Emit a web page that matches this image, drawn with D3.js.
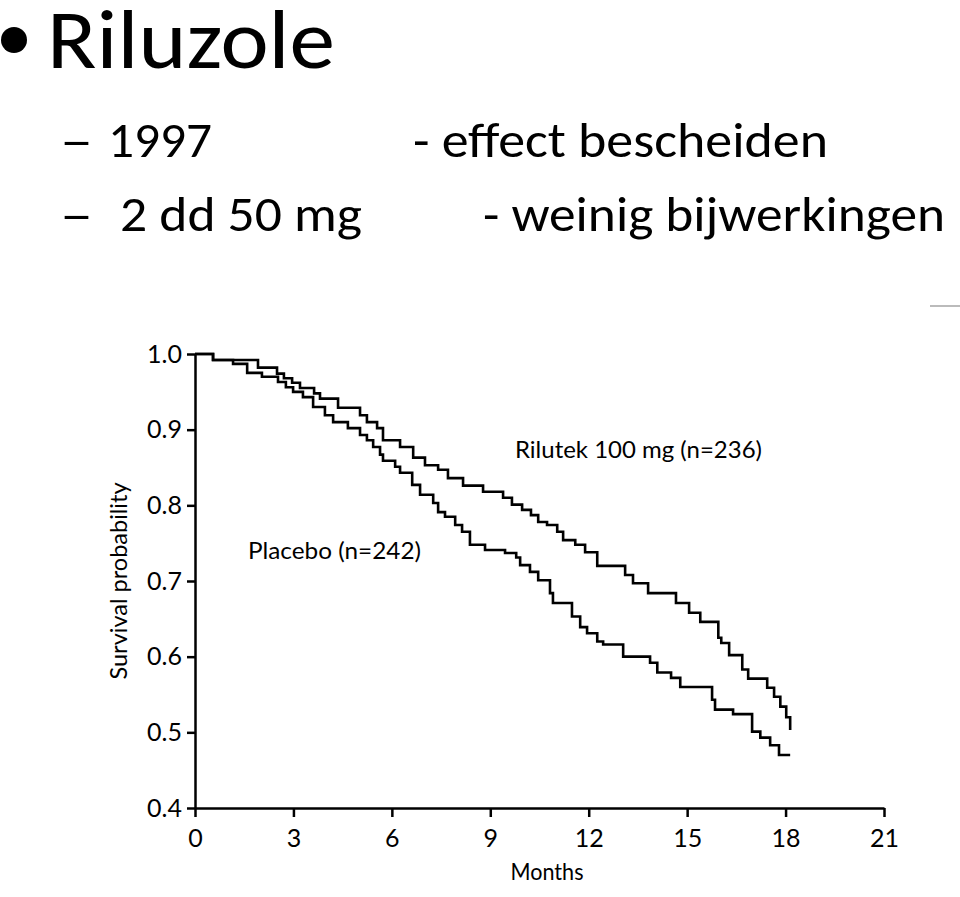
<!DOCTYPE html>
<html>
<head>
<meta charset="utf-8">
<script src="https://cdn.jsdelivr.net/npm/d3@7"></script>
<style>
  body { margin: 0; background: #fff; }
  svg { display: block; }
</style>
</head>
<body>
<svg id="chart"></svg>
<script>
// Kaplan-Meier curves (months, survival probability)
var riluTime = [0, 0.55, 1.92, 2.50, 2.71, 2.96, 3.20, 3.63, 3.81, 4.36, 5.03, 5.24, 5.55, 5.73, 6.25, 6.65, 7.01, 7.41, 7.71, 8.17, 8.78, 9.39, 9.66, 9.97, 10.24, 10.46, 10.73, 11.04, 11.22, 11.59, 11.89, 12.26, 13.11, 13.35, 13.81, 14.66, 15.06, 15.40, 15.95, 16.04, 16.28, 16.68, 16.86, 17.44, 17.65, 17.84, 18.02, 18.14]
var riluSurv = [1.000, 0.992, 0.982, 0.974, 0.968, 0.962, 0.955, 0.948, 0.941, 0.929, 0.919, 0.910, 0.902, 0.886, 0.877, 0.863, 0.853, 0.847, 0.836, 0.826, 0.818, 0.810, 0.801, 0.794, 0.787, 0.778, 0.774, 0.765, 0.754, 0.748, 0.738, 0.720, 0.708, 0.697, 0.684, 0.671, 0.658, 0.646, 0.625, 0.618, 0.602, 0.583, 0.571, 0.559, 0.547, 0.534, 0.520, 0.503]

var placTime = [0, 0.55, 1.16, 1.59, 2.04, 2.53, 2.77, 2.99, 3.29, 3.60, 3.96, 4.21, 4.66, 5.03, 5.24, 5.43, 5.64, 5.73, 6.10, 6.25, 6.62, 6.86, 7.26, 7.41, 7.62, 7.93, 8.14, 8.38, 8.84, 9.45, 9.79, 9.91, 10.21, 10.46, 10.82, 10.91, 11.49, 11.74, 11.95, 12.26, 12.44, 13.05, 13.87, 14.09, 14.51, 14.79, 15.76, 15.85, 16.40, 16.98, 17.23, 17.53, 17.80, 18.14]
var placSurv = [1.000, 0.992, 0.987, 0.975, 0.970, 0.963, 0.956, 0.950, 0.943, 0.930, 0.919, 0.910, 0.902, 0.893, 0.886, 0.877, 0.867, 0.859, 0.851, 0.843, 0.827, 0.814, 0.803, 0.791, 0.785, 0.774, 0.765, 0.748, 0.741, 0.737, 0.731, 0.721, 0.712, 0.701, 0.684, 0.671, 0.653, 0.639, 0.631, 0.620, 0.616, 0.600, 0.592, 0.579, 0.572, 0.560, 0.543, 0.530, 0.524, 0.501, 0.493, 0.483, 0.470, 0.470]

var xTicks = [0, 3, 6, 9, 12, 15, 18, 21]
var yTicks = [0.4, 0.5, 0.6, 0.7, 0.8, 0.9, 1.0]

var width = 960, height = 897
var margin = ({top: 354, right: 76, bottom: 89, left: 195})
var slideFont = 'Carlito, Lato, sans-serif'
var chartFont = 'Lato, "Open Sans", sans-serif'

var svg = d3.select('#chart')
    .attr('width', width)
    .attr('height', height)

svg.append('rect')
    .attr('width', width)
    .attr('height', height)
    .attr('fill', '#fff')

// slide text
svg.append('circle')
    .attr('cx', 14).attr('cy', 40).attr('r', 13)
    .attr('fill', '#000')

var slide = svg.append('g')
    .style('font-family', slideFont)
    .attr('fill', '#000')

var slideTexts = [
    {t: 'Riluzole', x: 47, y: 68, size: 84, len: 288},
    {t: '\u2013', x: 60, y: 157, size: 50, len: 33},
    {t: '1997', x: 108, y: 157, size: 50, len: 104},
    {t: '- effect bescheiden', x: 413, y: 157, size: 50, len: 415},
    {t: '\u2013', x: 60, y: 231, size: 50, len: 33},
    {t: '2 dd 50 mg', x: 120, y: 231, size: 50, len: 242},
    {t: '- weinig bijwerkingen', x: 483, y: 231, size: 50, len: 462}
]

slide.selectAll('text')
    .data(slideTexts)
    .enter()
    .append('text')
        .attr('x', d => d.x)
        .attr('y', d => d.y)
        .attr('font-size', d => d.size)
        .attr('textLength', d => d.len)
        .attr('lengthAdjust', 'spacingAndGlyphs')
        .text(d => d.t)

// little scan artefact top right
svg.append('line')
    .attr('x1', 930).attr('x2', 960)
    .attr('y1', 306).attr('y2', 306)
    .attr('stroke', '#bbb')
    .attr('stroke-width', 2)

// scales
var x = d3.scaleLinear()
    .domain([0, 21])
    .range([margin.left, width - margin.right])

var y = d3.scaleLinear()
    .domain([0.4, 1.0])
    .range([height - margin.bottom, margin.top])

var xAxis = d3.axisBottom(x)
    .tickValues(xTicks)
    .tickSizeInner(9)
    .tickSizeOuter(0)
    .tickPadding(12)

var yAxis = d3.axisLeft(y)
    .tickValues(yTicks)
    .tickFormat(d3.format('.1f'))
    .tickSizeInner(8)
    .tickSizeOuter(0)
    .tickPadding(5)

var gx = svg.append('g')
    .attr('transform', `translate(0,${height - margin.bottom})`)
    .call(xAxis)

var gy = svg.append('g')
    .attr('transform', `translate(${margin.left},0)`)
    .call(yAxis)

svg.selectAll('.domain, .tick line')
    .attr('stroke', '#000')
    .attr('stroke-width', 2.5)

svg.selectAll('.tick text')
    .attr('fill', '#000')
    .style('font-family', chartFont)
    .style('font-size', '25px')

// curves
var line = d3.line()
    .x(d => x(d[0]))
    .y(d => y(d[1]))
    .curve(d3.curveStepAfter)

var series = [
    {name: 'Rilutek', pts: d3.zip(riluTime, riluSurv)},
    {name: 'Placebo', pts: d3.zip(placTime, placSurv)}
]

svg.append('g')
    .selectAll('path')
    .data(series)
    .enter()
    .append('path')
        .attr('d', d => line(d.pts))
        .attr('fill', 'none')
        .attr('stroke', '#000')
        .attr('stroke-width', 2.6)

// labels
var labels = svg.append('g')
    .style('font-family', chartFont)
    .attr('fill', '#000')

labels.append('text')
    .attr('x', 515).attr('y', 458)
    .attr('font-size', 24)
    .attr('textLength', 247)
    .attr('lengthAdjust', 'spacingAndGlyphs')
    .text('Rilutek 100 mg (n=236)')

labels.append('text')
    .attr('x', 248).attr('y', 559)
    .attr('font-size', 24)
    .attr('textLength', 173)
    .attr('lengthAdjust', 'spacingAndGlyphs')
    .text('Placebo (n=242)')

labels.append('text')
    .attr('x', 547).attr('y', 880)
    .attr('text-anchor', 'middle')
    .attr('font-size', 24)
    .attr('textLength', 73)
    .attr('lengthAdjust', 'spacingAndGlyphs')
    .text('Months')

labels.append('text')
    .attr('transform', 'translate(127,581) rotate(-90)')
    .attr('text-anchor', 'middle')
    .attr('font-size', 24)
    .attr('textLength', 197)
    .attr('lengthAdjust', 'spacingAndGlyphs')
    .text('Survival probability')
</script>
</body>
</html>
